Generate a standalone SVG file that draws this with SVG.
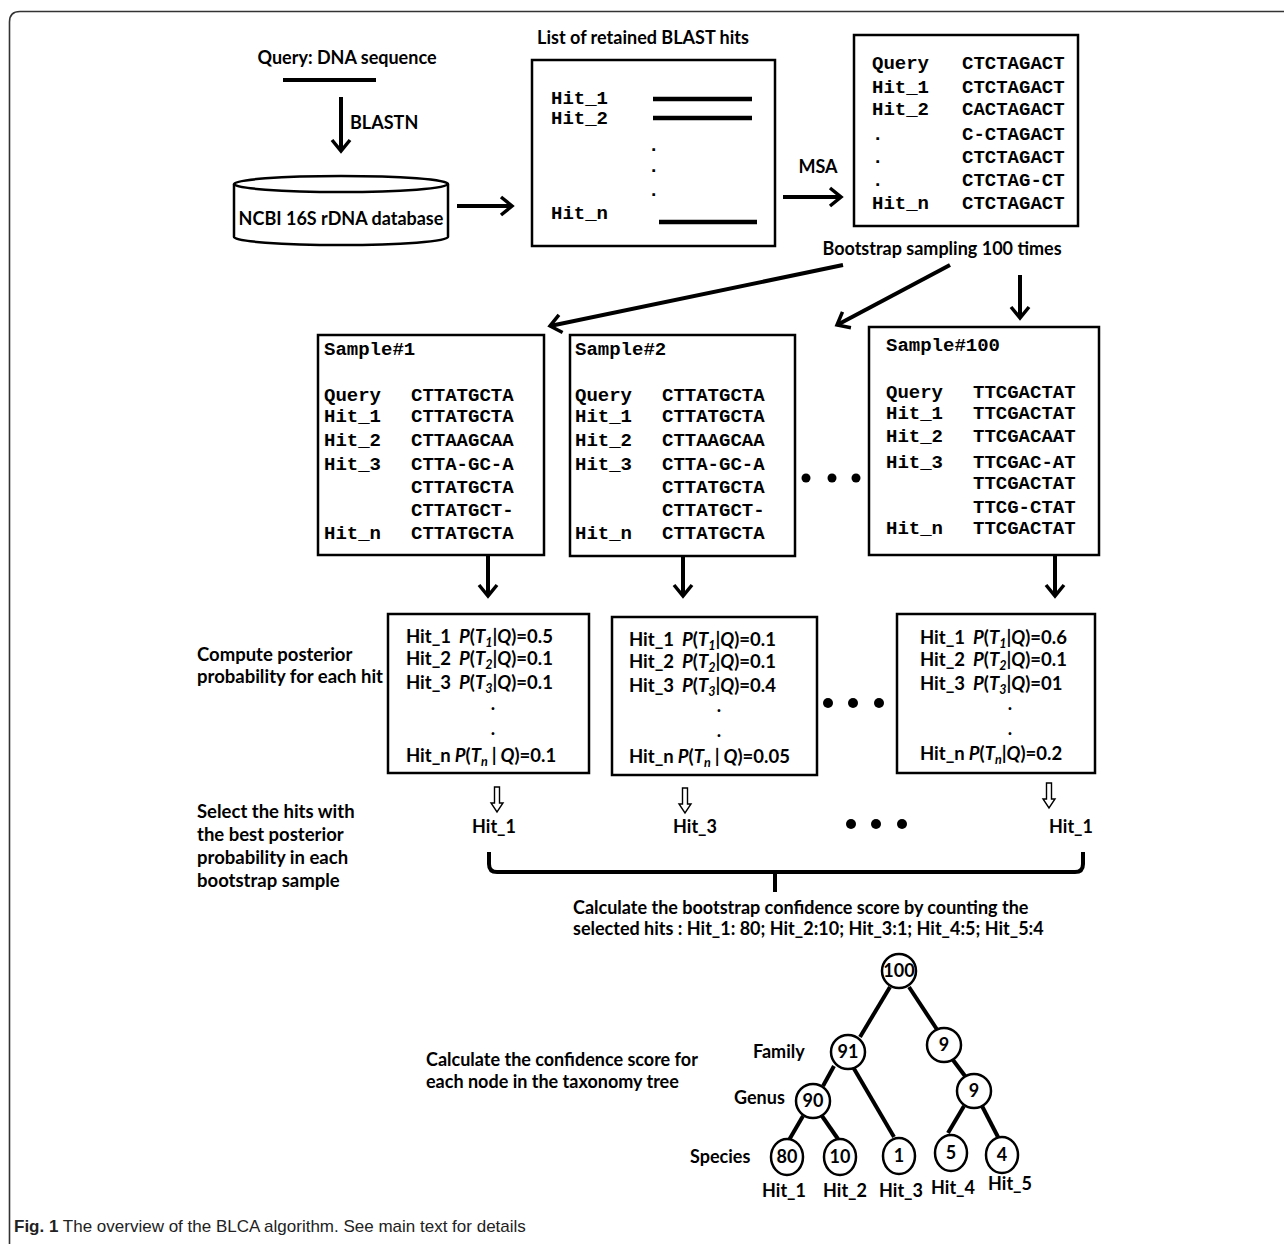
<svg xmlns="http://www.w3.org/2000/svg" width="1284" height="1244" viewBox="0 0 1284 1244">
<style>
.s{font-family:Lato,"Liberation Sans",sans-serif;font-weight:bold;font-size:18px;fill:#000}
.l{font-size:18.5px}
.m{font-family:"Liberation Mono","DejaVu Sans Mono",monospace;font-weight:bold;font-size:19px;fill:#000}
.p{font-family:Lato,"Liberation Sans",sans-serif;font-weight:bold;font-size:18.5px;fill:#000}
.it{font-style:italic}
.sub{font-style:italic;font-size:12.5px}
.box{fill:#fff;stroke:#000;stroke-width:2.5}
.ln{stroke:#000;stroke-width:4;fill:none}
.ar{stroke:#000;stroke-width:4;fill:none;marker-end:url(#ah)}
.nd{fill:#fff;stroke:#000;stroke-width:2.5}
.ha{fill:#fff;stroke:#000;stroke-width:1.4}
.c{text-anchor:middle}
.cap{font-family:"Liberation Sans",Arial,sans-serif;font-size:17px;fill:#222}
</style>
<defs>
<marker id="ah" markerUnits="userSpaceOnUse" viewBox="-16 -12 20 24" markerWidth="20" markerHeight="24" refX="0" refY="0" orient="auto">
<path d="M-11,-9 L0,0 L-11,9" fill="none" stroke="#000" stroke-width="3.5" stroke-linejoin="miter"/>
</marker>
</defs>
<rect width="1284" height="1244" fill="#fff"/>
<path d="M9.5,1244 V22 Q9.5,11.5 20,11.5 H1284" fill="none" stroke="#333" stroke-width="1.6"/>

<g id="connectors">
<line class="ar" x1="341" y1="97" x2="341" y2="151"/>
<line class="ar" x1="457" y1="206" x2="512" y2="206"/>
<line class="ar" x1="783" y1="197" x2="841" y2="197"/>
<line class="ar" x1="843" y1="265" x2="550" y2="326"/>
<line class="ar" x1="950" y1="265" x2="837" y2="325"/>
<line class="ar" x1="1020" y1="275" x2="1020" y2="318"/>
<line class="ar" x1="488" y1="556" x2="488" y2="596"/>
<line class="ar" x1="683" y1="556" x2="683" y2="596"/>
<line class="ar" x1="1055" y1="556" x2="1055" y2="596"/>
<path class="ha" d="M494.5,787 h5 v16 h3.5 l-6,9 l-6,-9 h3.5 z"/>
<path class="ha" d="M682.5,788 h5 v16 h3.5 l-6,9 l-6,-9 h3.5 z"/>
<path class="ha" d="M1046.5,783 h5 v16 h3.5 l-6,9 l-6,-9 h3.5 z"/>
<path class="ln" d="M489,852 V864 Q489,872 497,872 H1075 Q1083,872 1083,864 V852 M775,872 V892"/>
<line class="ln" x1="890" y1="987" x2="860" y2="1037"/>
<line class="ln" x1="909" y1="987" x2="938" y2="1031"/>
<line class="ln" x1="834" y1="1066" x2="823" y2="1086"/>
<line class="ln" x1="853" y1="1067" x2="894" y2="1137"/>
<line class="ln" x1="803" y1="1116" x2="789" y2="1140"/>
<line class="ln" x1="822" y1="1116" x2="838" y2="1139"/>
<line class="ln" x1="953" y1="1060" x2="965" y2="1076"/>
<line class="ln" x1="964" y1="1106" x2="948" y2="1133"/>
<line class="ln" x1="982" y1="1106" x2="998" y2="1137"/>
</g>

<g id="query">
<text class="s c" x="347" y="64">Query: DNA sequence</text>
<line x1="283" y1="80" x2="376" y2="80" stroke="#000" stroke-width="4"/>
</g>
<text class="s" x="350" y="129">BLASTN</text>

<g id="database">
<path d="M234,184 V237 A107,8 0 0 0 448,237 V184" class="box"/>
<ellipse cx="341" cy="184" rx="107" ry="8" class="box"/>
<text class="s c" x="341" y="225">NCBI 16S rDNA database</text>
</g>

<g id="hitlist">
<text class="s c" x="643" y="44">List of retained BLAST hits</text>
<rect class="box" x="532" y="60" width="243" height="186"/>
<text class="m" x="551" y="104">Hit_1</text>
<text class="m" x="551" y="124">Hit_2</text>
<text class="m" x="551" y="219">Hit_n</text>
<line x1="653" y1="99" x2="752" y2="99" stroke="#000" stroke-width="4.5"/>
<line x1="653" y1="118" x2="752" y2="118" stroke="#000" stroke-width="4.5"/>
<line x1="659" y1="222" x2="757" y2="222" stroke="#000" stroke-width="4.5"/>
<text class="m" x="648" y="151">.</text>
<text class="m" x="648" y="172">.</text>
<text class="m" x="648" y="196">.</text>
</g>
<text class="s c" x="818" y="173">MSA</text>

<g id="msa">
<rect class="box" x="854" y="35" width="224" height="191"/>
<text class="m" x="872" y="69">Query</text><text class="m" x="962" y="69">CTCTAGACT</text>
<text class="m" x="872" y="93">Hit_1</text><text class="m" x="962" y="93">CTCTAGACT</text>
<text class="m" x="872" y="115">Hit_2</text><text class="m" x="962" y="115">CACTAGACT</text>
<text class="m" x="872" y="140">.</text><text class="m" x="962" y="140">C-CTAGACT</text>
<text class="m" x="872" y="163">.</text><text class="m" x="962" y="163">CTCTAGACT</text>
<text class="m" x="872" y="186">.</text><text class="m" x="962" y="186">CTCTAG-CT</text>
<text class="m" x="872" y="209">Hit_n</text><text class="m" x="962" y="209">CTCTAGACT</text>
</g>
<text class="s c" x="942" y="255">Bootstrap sampling 100 times</text>

<g id="sample1">
<rect class="box" x="318" y="335" width="226" height="220"/>
<text class="m" x="324" y="355">Sample#1</text>
<text class="m" x="324" y="401">Query</text><text class="m" x="411" y="401">CTTATGCTA</text>
<text class="m" x="324" y="422">Hit_1</text><text class="m" x="411" y="422">CTTATGCTA</text>
<text class="m" x="324" y="446">Hit_2</text><text class="m" x="411" y="446">CTTAAGCAA</text>
<text class="m" x="324" y="470">Hit_3</text><text class="m" x="411" y="470">CTTA-GC-A</text>
<text class="m" x="411" y="493">CTTATGCTA</text>
<text class="m" x="411" y="516">CTTATGCT-</text>
<text class="m" x="324" y="539">Hit_n</text><text class="m" x="411" y="539">CTTATGCTA</text>
</g>
<g id="sample2">
<rect class="box" x="570" y="335" width="225" height="221"/>
<text class="m" x="575" y="355">Sample#2</text>
<text class="m" x="575" y="401">Query</text><text class="m" x="662" y="401">CTTATGCTA</text>
<text class="m" x="575" y="422">Hit_1</text><text class="m" x="662" y="422">CTTATGCTA</text>
<text class="m" x="575" y="446">Hit_2</text><text class="m" x="662" y="446">CTTAAGCAA</text>
<text class="m" x="575" y="470">Hit_3</text><text class="m" x="662" y="470">CTTA-GC-A</text>
<text class="m" x="662" y="493">CTTATGCTA</text>
<text class="m" x="662" y="516">CTTATGCT-</text>
<text class="m" x="575" y="539">Hit_n</text><text class="m" x="662" y="539">CTTATGCTA</text>
</g>
<g id="dots1"><circle cx="806" cy="478" r="4.5"/><circle cx="832" cy="478" r="4.5"/><circle cx="856" cy="478" r="4.5"/></g>
<g id="sample100">
<rect class="box" x="869" y="327" width="230" height="228"/>
<text class="m" x="886" y="351">Sample#100</text>
<text class="m" x="886" y="398">Query</text><text class="m" x="973" y="398">TTCGACTAT</text>
<text class="m" x="886" y="419">Hit_1</text><text class="m" x="973" y="419">TTCGACTAT</text>
<text class="m" x="886" y="442">Hit_2</text><text class="m" x="973" y="442">TTCGACAAT</text>
<text class="m" x="886" y="468">Hit_3</text><text class="m" x="973" y="468">TTCGAC-AT</text>
<text class="m" x="973" y="489">TTCGACTAT</text>
<text class="m" x="973" y="513">TTCG-CTAT</text>
<text class="m" x="886" y="534">Hit_n</text><text class="m" x="973" y="534">TTCGACTAT</text>
</g>

<text class="s l" x="197" y="661">Compute posterior</text>
<text class="s l" x="197" y="683">probability for each hit</text>

<g id="post1">
<rect class="box" x="388" y="614" width="201" height="159"/>
<text class="p" x="406" y="643">Hit_1<tspan dx="8" class="it">P</tspan>(<tspan class="it">T</tspan><tspan class="sub" dy="4">1</tspan><tspan dy="-4">|</tspan><tspan class="it">Q</tspan>)=0.5</text>
<text class="p" x="406" y="665">Hit_2<tspan dx="8" class="it">P</tspan>(<tspan class="it">T</tspan><tspan class="sub" dy="4">2</tspan><tspan dy="-4">|</tspan><tspan class="it">Q</tspan>)=0.1</text>
<text class="p" x="406" y="689">Hit_3<tspan dx="8" class="it">P</tspan>(<tspan class="it">T</tspan><tspan class="sub" dy="4">3</tspan><tspan dy="-4">|</tspan><tspan class="it">Q</tspan>)=0.1</text>
<text class="p c" x="493" y="710">.</text>
<text class="p c" x="493" y="735">.</text>
<text class="p" x="406" y="762">Hit_n<tspan dx="4" class="it">P</tspan>(<tspan class="it">T</tspan><tspan class="sub" dy="4">n</tspan><tspan dy="-4" dx="4">|</tspan><tspan class="it" dx="4">Q</tspan>)=0.1</text>
</g>
<g id="post2">
<rect class="box" x="612" y="617" width="205" height="158"/>
<text class="p" x="629" y="646">Hit_1<tspan dx="8" class="it">P</tspan>(<tspan class="it">T</tspan><tspan class="sub" dy="4">1</tspan><tspan dy="-4">|</tspan><tspan class="it">Q</tspan>)=0.1</text>
<text class="p" x="629" y="668">Hit_2<tspan dx="8" class="it">P</tspan>(<tspan class="it">T</tspan><tspan class="sub" dy="4">2</tspan><tspan dy="-4">|</tspan><tspan class="it">Q</tspan>)=0.1</text>
<text class="p" x="629" y="692">Hit_3<tspan dx="8" class="it">P</tspan>(<tspan class="it">T</tspan><tspan class="sub" dy="4">3</tspan><tspan dy="-4">|</tspan><tspan class="it">Q</tspan>)=0.4</text>
<text class="p c" x="719" y="712">.</text>
<text class="p c" x="719" y="737">.</text>
<text class="p" x="629" y="763">Hit_n<tspan dx="4" class="it">P</tspan>(<tspan class="it">T</tspan><tspan class="sub" dy="4">n</tspan><tspan dy="-4" dx="4">|</tspan><tspan class="it" dx="4">Q</tspan>)=0.05</text>
</g>
<g id="dots2"><circle cx="828" cy="703" r="5"/><circle cx="853" cy="703" r="5"/><circle cx="879" cy="703" r="5"/></g>
<g id="post3">
<rect class="box" x="897" y="614" width="198" height="159"/>
<text class="p" x="920" y="644">Hit_1<tspan dx="8" class="it">P</tspan>(<tspan class="it">T</tspan><tspan class="sub" dy="4">1</tspan><tspan dy="-4">|</tspan><tspan class="it">Q</tspan>)=0.6</text>
<text class="p" x="920" y="666">Hit_2<tspan dx="8" class="it">P</tspan>(<tspan class="it">T</tspan><tspan class="sub" dy="4">2</tspan><tspan dy="-4">|</tspan><tspan class="it">Q</tspan>)=0.1</text>
<text class="p" x="920" y="690">Hit_3<tspan dx="8" class="it">P</tspan>(<tspan class="it">T</tspan><tspan class="sub" dy="4">3</tspan><tspan dy="-4">|</tspan><tspan class="it">Q</tspan>)=01</text>
<text class="p c" x="1010" y="710">.</text>
<text class="p c" x="1010" y="735">.</text>
<text class="p" x="920" y="760">Hit_n<tspan dx="4" class="it">P</tspan>(<tspan class="it">T</tspan><tspan class="sub" dy="4">n</tspan><tspan dy="-4">|</tspan><tspan class="it">Q</tspan>)=0.2</text>
</g>

<text class="s l" x="197" y="818">Select the hits with</text>
<text class="s l" x="197" y="841">the best posterior</text>
<text class="s l" x="197" y="864">probability in each</text>
<text class="s l" x="197" y="887">bootstrap sample</text>

<text class="s c" x="494" y="833">Hit_1</text>
<text class="s c" x="695" y="833">Hit_3</text>
<g id="dots3"><circle cx="851" cy="824" r="5"/><circle cx="876" cy="824" r="5"/><circle cx="902" cy="824" r="5"/></g>
<text class="s c" x="1071" y="833">Hit_1</text>

<text class="s" x="573" y="914">Calculate the bootstrap confidence score by counting the</text>
<text class="s" x="573" y="935">selected hits  : Hit_1: 80; Hit_2:10; Hit_3:1; Hit_4:5; Hit_5:4</text>

<text class="s" x="426" y="1066">Calculate the confidence score for</text>
<text class="s" x="426" y="1088">each node in the taxonomy tree</text>
<text class="s" x="753" y="1058">Family</text>
<text class="s" x="734" y="1104">Genus</text>
<text class="s" x="690" y="1163">Species</text>

<g id="n100"><circle class="nd" cx="899" cy="971" r="17"/><text class="s c" x="899" y="977">100</text></g>
<g id="n91"><circle class="nd" cx="848" cy="1052" r="17"/><text class="s c" x="848" y="1058">91</text></g>
<g id="n9a"><circle class="nd" cx="944" cy="1045" r="17"/><text class="s c" x="944" y="1051">9</text></g>
<g id="n90"><circle class="nd" cx="813" cy="1101" r="17"/><text class="s c" x="813" y="1107">90</text></g>
<g id="n9b"><circle class="nd" cx="974" cy="1091" r="17"/><text class="s c" x="974" y="1097">9</text></g>
<g id="n80"><ellipse class="nd" cx="787" cy="1157" rx="16" ry="18"/><text class="s c" x="787" y="1163">80</text><text class="s c" x="784" y="1197">Hit_1</text></g>
<g id="n10"><ellipse class="nd" cx="840" cy="1157" rx="16" ry="18"/><text class="s c" x="840" y="1163">10</text><text class="s c" x="845" y="1197">Hit_2</text></g>
<g id="n1"><ellipse class="nd" cx="899" cy="1156" rx="16" ry="18"/><text class="s c" x="899" y="1162">1</text><text class="s c" x="901" y="1197">Hit_3</text></g>
<g id="n5"><ellipse class="nd" cx="951" cy="1153" rx="16" ry="18"/><text class="s c" x="951" y="1159">5</text><text class="s c" x="953" y="1194">Hit_4</text></g>
<g id="n4"><ellipse class="nd" cx="1002" cy="1155" rx="16" ry="18"/><text class="s c" x="1002" y="1161">4</text><text class="s c" x="1010" y="1190">Hit_5</text></g>

<text class="cap" x="14" y="1232"><tspan font-weight="bold">Fig. 1</tspan> The overview of the BLCA algorithm. See main text for details</text>
</svg>
